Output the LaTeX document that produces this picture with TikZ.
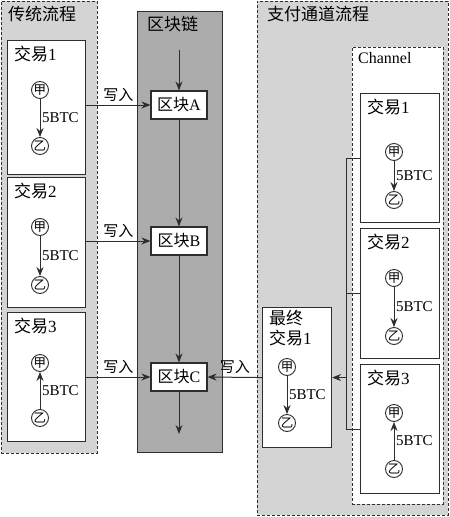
\documentclass[tikz,border=0pt]{standalone}
\usepackage{fontspec}
\setmainfont{Liberation Serif}
\newfontfamily\cjk{Noto Sans CJK SC}
\usetikzlibrary{positioning,arrows.meta}
\definecolor{regiongray}{RGB}{212,212,212}
\definecolor{chaingray}{RGB}{172,172,172}
\definecolor{linegray}{RGB}{45,45,45}

\begin{document}
\begin{tikzpicture}[
  x=1pt, y=-1pt,
  region/.style={rectangle, draw=linegray, dash pattern=on 3pt off 2pt, fill=regiongray, line width=0.8pt, anchor=north west, inner sep=0pt},
  chainbox/.style={rectangle, draw=linegray, fill=chaingray, line width=1pt, anchor=north west, inner sep=0pt},
  txbox/.style={rectangle, draw=linegray, fill=white, line width=1.1pt, anchor=north west, inner sep=0pt},
  block/.style={rectangle, draw=linegray, fill=white, line width=1.1pt, minimum width=56pt, minimum height=28pt, inner sep=0pt, font=\fontsize{16}{18}\selectfont},
  party/.style={circle, draw=linegray, line width=0.9pt, minimum size=17pt, inner sep=0pt, font=\cjk\fontsize{12.5}{12.5}\selectfont},
  title/.style={anchor=north west, inner sep=0pt, align=left, font=\fontsize{17}{20}\selectfont},
  amount/.style={right, inner sep=1.5pt, font=\fontsize{15}{16}\selectfont},
  writes/.style={above, inner sep=3pt, font=\cjk\fontsize{15}{16}\selectfont},
  line/.style={draw=linegray, line width=1pt, -{Stealth[length=9pt,width=7pt]}},
  wire/.style={draw=linegray, line width=1pt}
]
  \useasboundingbox (0,0) rectangle (450,517);

  % Regions
  \node[region, minimum width=96pt, minimum height=452pt] (trad) at (1,1) {};
  \node[title] (tradtitle) at (8,6) {\cjk 传统流程};
  \node[region, minimum width=191pt, minimum height=514pt] (pay) at (257,1) {};
  \node[title] (paytitle) at (267,6) {\cjk 支付通道流程};
  \node[region, fill=white, minimum width=91pt, minimum height=457pt] (channel) at (352,47) {};
  \node[title, font=\fontsize{16}{18}\selectfont] (channeltitle) at (358,52) {Channel};

  % Blockchain
  \node[chainbox, minimum width=85pt, minimum height=441pt] (chain) at (137,11) {};
  \node[title] (chaintitle) at (147,16) {\cjk 区块链};
  \node[block] (blkA) at (179,105) {{\cjk 区块}A};
  \node[block] (blkB) at (179,241) {{\cjk 区块}B};
  \node[block] (blkC) at (179,377) {{\cjk 区块}C};
  \coordinate (chainin) at (179,50);
  \coordinate (chainout) at (179,434);

  \path[line] (chainin) -- (blkA);
  \path[line] (blkA) -- (blkB);
  \path[line] (blkB) -- (blkC);
  \path[line] (blkC) -- (chainout);

  % Traditional transactions
  \foreach \i/\top/\h/\ya/\yb/\src/\dst in {1/40/134/90/146/jia/yi, 2/177/130/227/285/jia/yi, 3/312/129/363/418/yi/jia} {
    \node[txbox, minimum width=78pt, minimum height=\h pt] (tx\i) at (7,\top) {};
    \node[title] (txtitle\i) at (14,\top+6) {{\cjk 交易}\i};
    \node[party] (jia\i) at (40,\ya) {甲};
    \node[party] (yi\i) at (40,\yb) {乙};
    \path[line] (\src\i) -- node[amount] (amt\i) {5BTC} (\dst\i);
  }

  \path[line] (tx1.east |- blkA) -- node[writes] {写入} (blkA.west);
  \path[line] (tx2.east |- blkB) -- node[writes] {写入} (blkB.west);
  \path[line] (tx3.east |- blkC) -- node[writes] {写入} (blkC.west);

  % Channel transactions
  \foreach \i/\top/\h/\ya/\yb/\src/\dst in {1/93/129/152/200/cjia/cyi, 2/228/130/278/336/cjia/cyi, 3/364/129/413/469/cyi/cjia} {
    \node[txbox, minimum width=79pt, minimum height=\h pt] (ctx\i) at (360,\top) {};
    \node[title] (ctxtitle\i) at (367,\top+6) {{\cjk 交易}\i};
    \node[party] (cjia\i) at (394,\ya) {甲};
    \node[party] (cyi\i) at (394,\yb) {乙};
    \path[line] (\src\i) -- node[amount] (camt\i) {5BTC} (\dst\i);
  }

  % Final transaction
  \node[txbox, minimum width=69pt, minimum height=140pt] (final) at (262,307) {};
  \node[title] (finaltitle) at (269,310) {{\cjk 最终}\\{\cjk 交易}1};
  \node[party] (fjia) at (287,367) {甲};
  \node[party] (fyi) at (287,423) {乙};
  \path[line] (fjia) -- node[amount] (famt) {5BTC} (fyi);

  % Channel bus
  \coordinate (bus) at (346,0);
  \path[wire] (ctx1.west) -- (ctx1.west -| bus) -- (ctx3.west -| bus) -- (ctx3.west);
  \path[wire] (ctx2.west) -- (ctx2.west -| bus);
  \path[line] (final.east -| bus) -- (final.east);
  \path[line] (final.west) -- node[writes] {写入} (blkC.east);

\end{tikzpicture}
\end{document}
